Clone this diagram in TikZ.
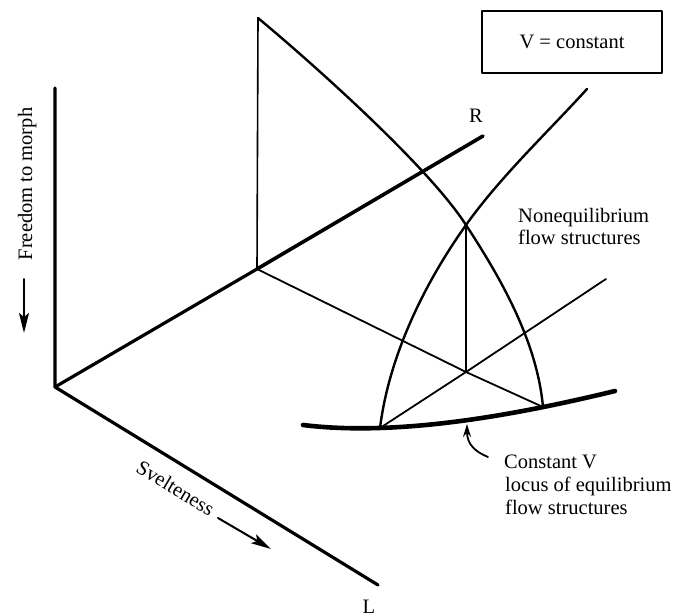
\documentclass[tikz,border=0pt]{standalone}
\usepackage{fontspec}
\setmainfont{Liberation Serif}
\usetikzlibrary{arrows.meta}
\begin{document}
\begin{tikzpicture}[x=1pt,y=-1pt,
  lbl/.style={font=\fontsize{20.5}{24}\selectfont, inner sep=0pt},
  axisline/.style={line width=3.2pt},
  thinline/.style={line width=1.8pt},
  arcline/.style={line width=2.4pt},
  locus/.style={line width=4.6pt},
  dirarrow/.style={line width=2pt, -{Stealth[length=20pt,width=10pt,inset=4pt]}},
  line cap=round, line join=round]
\useasboundingbox (0,0) rectangle (689,616);
% key points
\coordinate (O) at (55,387);
\coordinate (Vtop) at (55,88);
\coordinate (Lend) at (378,585);
\coordinate (P) at (257,269);
\coordinate (Rend) at (483,136);
\coordinate (T) at (258,18);
\coordinate (A) at (466,225);
\coordinate (X) at (466,372);
\coordinate (BL) at (380,428);
\coordinate (BR) at (543,407);
\coordinate (Q) at (606,279);
\coordinate (C2top) at (587,89);
\coordinate (LocL) at (303,425);
\coordinate (LocR) at (615,391);
% axes
\draw[axisline] (Vtop) -- (O) -- (Lend);
\draw[axisline] (O) -- (P);
\draw[line width=3.6pt] (P) -- (Rend);
% thin lines
\draw[line width=1.6pt] (T) -- (P);
\draw[thinline] (P) -- (X) -- (BR);
\draw[thinline] (BL) -- (X) -- (Q);
\draw[thinline] (A) -- (X);
% arcs
\draw[arcline] (T) .. controls (312,63) and (428,166) .. (A)
               .. controls (502,280) and (537,342) .. (BR);
\draw[arcline] (C2top) .. controls (547,133) and (501,176) .. (A)
               .. controls (424,284) and (389,356) .. (BL);
% locus of equilibrium
\draw[locus] (LocL) .. controls (400,437) and (520,414) .. (LocR);
% curved pointer
\coordinate (ptail) at (488,457);
\coordinate (ptip) at (467,424);
\draw[line width=1.8pt, -{Stealth[length=13pt,width=8pt]}] (ptail) .. controls (476,452) and (467,445) .. (ptip);
% labels
\node[lbl, draw, line width=1.8pt, minimum width=180pt, minimum height=62pt] (box) at (572,42) {V = constant};
\node[lbl, anchor=base] (R) at (476,122) {R};
\node[lbl, anchor=base] (L) at (369,613) {L};
\node[lbl, anchor=base west] (ne1) at (518,222) {Nonequilibrium};
\node[lbl, anchor=base west] (ne2) at (518,244) {flow structures};
\node[lbl, anchor=base west] (cv1) at (504,468) {Constant V};
\node[lbl, anchor=base west] (cv2) at (505,491) {locus of equilibrium};
\node[lbl, anchor=base west] (cv3) at (505,514) {flow structures};
\node[lbl, anchor=base, rotate=90] (fm) at (32,184) {Freedom to morph};
\node[lbl, anchor=base, rotate=-31] (sv) at (172,494) {Svelteness};
% direction arrows
\coordinate (fa1) at (24,279);
\coordinate (fa2) at (24,333);
\draw[dirarrow] (fa1) -- (fa2);
\coordinate (sa1) at (218,518);
\coordinate (sa2) at (271,549);
\draw[dirarrow] (sa1) -- (sa2);
\end{tikzpicture}
\end{document}
